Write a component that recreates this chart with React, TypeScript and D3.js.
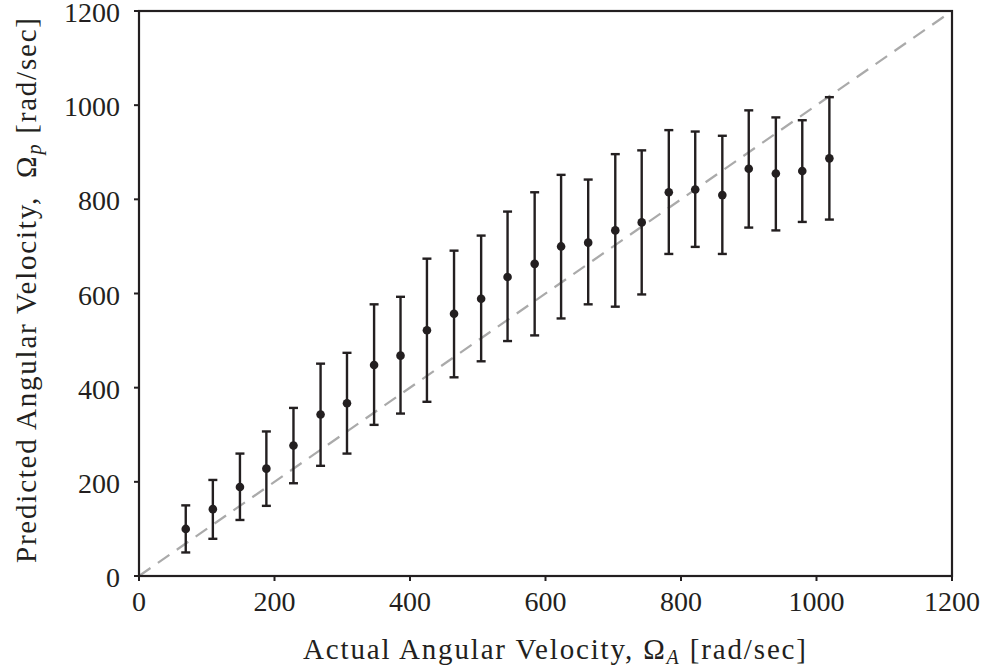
import React from "react";
import * as d3 from "d3";

const actual = [69, 109, 149, 188, 228, 268, 307, 347, 386, 425, 465, 505, 544, 584, 623, 663, 703, 742, 782, 821, 861, 900, 940, 979, 1019];
const predicted = [100, 142, 189, 228, 277, 343, 367, 448, 468, 522, 557, 589, 635, 663, 700, 708, 734, 751, 815, 821, 809, 865, 855, 860, 887];
const upper = [150, 204, 260, 307, 357, 451, 474, 577, 593, 674, 691, 723, 774, 815, 852, 842, 896, 904, 947, 944, 935, 989, 974, 968, 1017];
const lower = [50, 79, 119, 149, 197, 234, 260, 321, 345, 370, 422, 456, 499, 511, 547, 577, 572, 598, 684, 699, 684, 740, 734, 752, 757];
const xTicks = [0, 200, 400, 600, 800, 1000, 1200];
const yTicks = [0, 200, 400, 600, 800, 1000, 1200];

const W = 987;
const H = 668;
const left = 139;
const right = 952;
const top = 11;
const bottom = 576;
const INK = "#231f20";
const textStyle: React.CSSProperties = {
  fontFamily: '"Liberation Serif", "DejaVu Serif", serif',
  fontSize: "28px",
};
const labelStyle: React.CSSProperties = {
  fontFamily: '"Liberation Serif", "DejaVu Serif", serif',
  fontSize: "29px",
};

export default function App() {
  const x = d3.scaleLinear().domain([0, 1200]).range([left, right]);
  const y = d3.scaleLinear().domain([0, 1200]).range([bottom, top]);
  const points = actual.map((a, i) => ({ a, p: predicted[i], hi: upper[i], lo: lower[i] }));
  const capW = 4.5;

  return (
    <svg width={W} height={H} style={{ position: "absolute", left: 0, top: 0, background: "#fff" }}>
      <rect x={0} y={0} width={W} height={H} fill="#fff" />
      <line
        x1={x(0)}
        y1={y(0)}
        x2={x(1200)}
        y2={y(1200)}
        stroke="#aaaaaa"
        strokeWidth={2.2}
        strokeDasharray="14 9"
      />
      {points.map((d, i) => (
        <g key={i} stroke={INK} strokeWidth={2.4}>
          <line x1={x(d.a)} x2={x(d.a)} y1={y(d.hi)} y2={y(d.lo)} />
          <line x1={x(d.a) - capW} x2={x(d.a) + capW} y1={y(d.hi)} y2={y(d.hi)} />
          <line x1={x(d.a) - capW} x2={x(d.a) + capW} y1={y(d.lo)} y2={y(d.lo)} />
        </g>
      ))}
      {points.map((d, i) => (
        <circle key={"c" + i} cx={x(d.a)} cy={y(d.p)} r={4.3} fill={INK} />
      ))}
      <rect
        x={left}
        y={top}
        width={right - left}
        height={bottom - top}
        fill="none"
        stroke={INK}
        strokeWidth={2.2}
      />
      {xTicks.map((t) => (
        <g key={"xt" + t}>
          <line x1={x(t)} x2={x(t)} y1={bottom} y2={bottom + 5} stroke={INK} strokeWidth={2} />
          <text x={x(t)} y={611} textAnchor="middle" style={textStyle} fill={INK}>
            {t}
          </text>
        </g>
      ))}
      {yTicks.map((t) => (
        <g key={"yt" + t}>
          <line x1={left - 5} x2={left} y1={y(t)} y2={y(t)} stroke={INK} strokeWidth={2} />
          <text x={120} y={y(t) + 11} textAnchor="end" style={textStyle} fill={INK}>
            {t}
          </text>
        </g>
      ))}
      <text
        x={303}
        y={659}
        textAnchor="start"
        style={labelStyle}
        fill={INK}
        textLength={503}
        lengthAdjust="spacing"
      >
        Actual Angular Velocity, Ω
        <tspan fontStyle="italic" fontSize={20} dy={5}>A</tspan>
        <tspan dy={-5}> [rad/sec]</tspan>
      </text>
      <text
        transform={`translate(36, 563) rotate(-90)`}
        textAnchor="start"
        style={labelStyle}
        fill={INK}
        textLength={545}
        lengthAdjust="spacing"
      >
        Predicted Angular Velocity,{"\u00A0\u00A0"}Ω
        <tspan fontStyle="italic" fontSize={20} dy={5}>p</tspan>
        <tspan dy={-5}> [rad/sec]</tspan>
      </text>
    </svg>
  );
}
